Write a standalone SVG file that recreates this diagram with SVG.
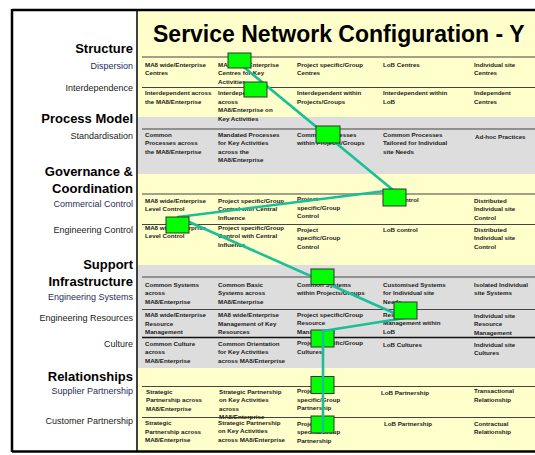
<svg xmlns="http://www.w3.org/2000/svg" width="535" height="455" viewBox="0 0 535 455">
  <style>
    .hdr { font-family: "Liberation Sans", Arial, sans-serif; font-size: 13px; font-weight: bold; fill: #000; text-anchor: end; }
    .sub { font-family: "Liberation Sans", Arial, sans-serif; font-size: 9px; fill: #222; text-anchor: end; }
    .navy { fill: #1f2d5c; }
    .cell { font-family: "Liberation Sans", Arial, sans-serif; font-size: 6.2px; font-weight: bold; fill: #1a1a1a; }
    .title { font-family: "Liberation Sans", Arial, sans-serif; font-size: 23px; font-weight: bold; fill: #000; }
    .rule { stroke: #444; stroke-width: 1.2; }
    .box { fill: #00ff00; stroke: #333; stroke-width: 1; }
    .link { fill: none; stroke: #1abf98; stroke-width: 2.6; stroke-linejoin: round; }
  </style>

  <!-- panels -->
  <rect x="0" y="0" width="535" height="455" fill="#fff"/>
  <rect x="138" y="11" width="397" height="440" fill="#ffffcc"/>
  <rect x="138" y="117" width="397" height="57" fill="#dddddd"/>
  <rect x="138" y="265" width="397" height="103" fill="#dddddd"/>

  <!-- frame -->
  <g stroke="#000">
    <line x1="12" y1="10" x2="535" y2="10" stroke-width="2.5"/>
    <line x1="12" y1="9" x2="12" y2="452" stroke-width="2.5"/>
    <line x1="12" y1="451.5" x2="535" y2="451.5" stroke-width="2.5"/>
    <line x1="137" y1="10" x2="137" y2="451" stroke-width="1.5"/>
  </g>

  <!-- row rules -->
  <g class="rule">
    <line x1="142" y1="57" x2="535" y2="57"/>
    <line x1="142" y1="87.5" x2="535" y2="87.5"/>
    <line x1="142" y1="129" x2="535" y2="129"/>
    <line x1="142" y1="194" x2="535" y2="194"/>
    <line x1="142" y1="224.5" x2="535" y2="224.5"/>
    <line x1="142" y1="277" x2="535" y2="277"/>
    <line x1="142" y1="309.5" x2="535" y2="309.5"/>
    <line x1="142" y1="337.5" x2="535" y2="337.5" stroke="#111" stroke-width="1.5"/>
    <line x1="142" y1="386.5" x2="535" y2="386.5"/>
    <line x1="142" y1="417.5" x2="535" y2="417.5"/>
  </g>

  <!-- title -->
  <text class="title" x="153" y="42">Service Network Configuration - Y</text>

  <!-- left-hand headings -->
  <g id="labels">
    <text class="hdr" x="133" y="53">Structure</text>
    <text class="sub navy" x="133" y="69">Dispersion</text>
    <text class="sub" x="133" y="91">Interdependence</text>
    <text class="hdr" x="133" y="123">Process Model</text>
    <text class="sub" x="133" y="139">Standardisation</text>
    <text class="hdr" x="133" y="176">Governance &amp;</text>
    <text class="hdr" x="133" y="193">Coordination</text>
    <text class="sub navy" x="133" y="207">Commercial Control</text>
    <text class="sub" x="133" y="233">Engineering Control</text>
    <text class="hdr" x="133" y="269">Support</text>
    <text class="hdr" x="133" y="286">Infrastructure</text>
    <text class="sub navy" x="133" y="300">Engineering Systems</text>
    <text class="sub" x="133" y="321">Engineering Resources</text>
    <text class="sub" x="133" y="347">Culture</text>
    <text class="hdr" x="133" y="381">Relationships</text>
    <text class="sub navy" x="133" y="394">Supplier Partnership</text>
    <text class="sub" x="133" y="424">Customer Partnership</text>
  </g>

  <!-- table cells -->
  <g id="row-dispersion" class="cell">
    <text x="145" y="66.5">MA8 wide/Enterprise<tspan x="145" y="75">Centres</tspan></text>
    <text x="218" y="66.5">MA8 wide/Enterprise<tspan x="218" y="75">Centres for Key</tspan><tspan x="218" y="83.5">Activities</tspan></text>
    <text x="297" y="66.5">Project specific/Group<tspan x="297" y="75">Centres</tspan></text>
    <text x="383" y="66.5">LoB Centres</text>
    <text x="474" y="66.5">Individual site<tspan x="474" y="75">Centres</tspan></text>
  </g>
  <g id="row-interdependence" class="cell">
    <text x="145" y="95">Interdependent across<tspan x="145" y="103.5">the MA8/Enterprise</tspan></text>
    <text x="218" y="95">Interdependent<tspan x="218" y="103.5">across</tspan><tspan x="218" y="112">MA8/Enterprise on</tspan><tspan x="218" y="120.5">Key Activities</tspan></text>
    <text x="297" y="95">Interdependent within<tspan x="297" y="103.5">Projects/Groups</tspan></text>
    <text x="383" y="95">Interdependent within<tspan x="383" y="103.5">LoB</tspan></text>
    <text x="474" y="95">Independent<tspan x="474" y="103.5">Centres</tspan></text>
  </g>
  <g id="row-standardisation" class="cell">
    <text x="145" y="136.5">Common<tspan x="145" y="145">Processes across</tspan><tspan x="145" y="153.5">the MA8/Enterprise</tspan></text>
    <text x="218" y="136.5">Mandated Processes<tspan x="218" y="145">for Key Activities</tspan><tspan x="218" y="153.5">across the</tspan><tspan x="218" y="162">MA8/Enterprise</tspan></text>
    <text x="297" y="136.5">Common Processes<tspan x="297" y="145">within Projects/Groups</tspan></text>
    <text x="383" y="136.5">Common Processes<tspan x="383" y="145">Tailored for Individual</tspan><tspan x="383" y="153.5">site Needs</tspan></text>
    <text x="475" y="139">Ad-hoc Practices</text>
  </g>
  <g id="row-commercial" class="cell">
    <text x="145" y="202.5">MA8 wide/Enterprise<tspan x="145" y="211">Level Control</tspan></text>
    <text x="218" y="202.5">Project specific/Group<tspan x="218" y="211">Control with Central</tspan><tspan x="218" y="219.5">Influence</tspan></text>
    <text x="297" y="201">Project<tspan x="297" y="209.5">specific/Group</tspan><tspan x="297" y="218">Control</tspan></text>
    <text x="383" y="201.5">LoB Control</text>
    <text x="474" y="202.5">Distributed<tspan x="474" y="211">Individual site</tspan><tspan x="474" y="219.5">Control</tspan></text>
  </g>
  <g id="row-engineering-control" class="cell">
    <text x="145" y="229.5">MA8 wide/Enterprise<tspan x="145" y="238">Level Control</tspan></text>
    <text x="218" y="229.5">Project specific/Group<tspan x="218" y="238">Control with Central</tspan><tspan x="218" y="246.5">Influence</tspan></text>
    <text x="297" y="231.5">Project<tspan x="297" y="240">specific/Group</tspan><tspan x="297" y="248.5">Control</tspan></text>
    <text x="383" y="231.5">LoB control</text>
    <text x="474" y="231.5">Distributed<tspan x="474" y="240">Individual site</tspan><tspan x="474" y="248.5">Control</tspan></text>
  </g>
  <g id="row-systems" class="cell">
    <text x="145" y="286.5">Common Systems<tspan x="145" y="295">across</tspan><tspan x="145" y="303.5">MA8/Enterprise</tspan></text>
    <text x="218" y="286.5">Common Basic<tspan x="218" y="295">Systems across</tspan><tspan x="218" y="303.5">MA8/Enterprise</tspan></text>
    <text x="297" y="286.5">Common Systems<tspan x="297" y="295">within Projects/Groups</tspan></text>
    <text x="383" y="286.5">Customised Systems<tspan x="383" y="295">for Individual site</tspan><tspan x="383" y="303.5">Needs</tspan></text>
    <text x="474" y="286.5">Isolated Individual<tspan x="474" y="295">site Systems</tspan></text>
  </g>
  <g id="row-resources" class="cell">
    <text x="145" y="317">MA8 wide/Enterprise<tspan x="145" y="325.5">Resource</tspan><tspan x="145" y="334">Management</tspan></text>
    <text x="218" y="317">MA8 wide/Enterprise<tspan x="218" y="325.5">Management of Key</tspan><tspan x="218" y="334">Resources</tspan></text>
    <text x="297" y="316.5">Project specific/Group<tspan x="297" y="325">Resource</tspan><tspan x="297" y="333.5">Management</tspan></text>
    <text x="383" y="316.5">Resource<tspan x="383" y="325">Management within</tspan><tspan x="383" y="333.5">LoB</tspan></text>
    <text x="474" y="317.5">Individual site<tspan x="474" y="326">Resource</tspan><tspan x="474" y="334.5">Management</tspan></text>
  </g>
  <g id="row-culture" class="cell">
    <text x="145" y="345.5">Common Culture<tspan x="145" y="354">across</tspan><tspan x="145" y="362.5">MA8/Enterprise</tspan></text>
    <text x="218" y="345.5">Common Orientation<tspan x="218" y="354">for Key Activities</tspan><tspan x="218" y="362.5">across MA8/Enterprise</tspan></text>
    <text x="297" y="345">Project specific/Group<tspan x="297" y="353.5">Cultures</tspan></text>
    <text x="383" y="346.5">LoB Cultures</text>
    <text x="474" y="346.5">Individual site<tspan x="474" y="355">Cultures</tspan></text>
  </g>
  <g id="row-supplier" class="cell">
    <text x="146" y="393.5">Strategic<tspan x="146" y="402">Partnership across</tspan><tspan x="146" y="410.5">MA8/Enterprise</tspan></text>
    <text x="219" y="393.5">Strategic Partnership<tspan x="219" y="402">on Key Activities</tspan><tspan x="219" y="410.5">across</tspan><tspan x="219" y="419">MA8/Enterprise</tspan></text>
    <text x="297" y="393">Project<tspan x="297" y="401.5">specific/Group</tspan><tspan x="297" y="410">Partnership</tspan></text>
    <text x="381" y="394.5">LoB Partnership</text>
    <text x="474" y="393">Transactional<tspan x="474" y="401.5">Relationship</tspan></text>
  </g>
  <g id="row-customer" class="cell">
    <text x="145" y="425">Strategic<tspan x="145" y="433.5">Partnership across</tspan><tspan x="145" y="442">MA8/Enterprise</tspan></text>
    <text x="218" y="424.5">Strategic Partnership<tspan x="218" y="433">on Key Activities</tspan><tspan x="218" y="441.5">across MA8/Enterprise</tspan></text>
    <text x="297" y="425.5">Project<tspan x="297" y="434">specific/Group</tspan><tspan x="297" y="442.5">Partnership</tspan></text>
    <text x="384" y="425.5">LoB Partnership</text>
    <text x="474" y="425.5">Contractual<tspan x="474" y="434">Relationship</tspan></text>
  </g>

  <!-- markers lying under the profile line -->
  <g id="node-culture"><rect class="box" x="311" y="330" width="23" height="17"/></g>
  <g id="node-supplier"><rect class="box" x="311" y="376.5" width="23" height="17"/></g>
  <g id="node-customer"><rect class="box" x="311" y="416" width="23" height="17"/></g>

  <!-- profile line -->
  <g id="connectors">
    <polyline class="link" points="240,64 393,190 178,217 405,318 323,331 323,433"/>
  </g>

  <!-- markers drawn over the profile line -->
  <g id="node-dispersion"><rect class="box" x="228" y="53" width="23" height="15"/></g>
  <g id="node-interdependence"><rect class="box" x="244" y="82" width="23" height="15"/></g>
  <g id="node-standardisation"><rect class="box" x="316" y="126" width="24" height="17"/></g>
  <g id="node-commercial"><rect class="box" x="383" y="189" width="23" height="17"/></g>
  <g id="node-engineering-control"><rect class="box" x="166" y="217" width="23" height="16"/></g>
  <g id="node-systems"><rect class="box" x="311" y="269" width="23" height="15.5"/></g>
  <g id="node-resources"><rect class="box" x="394" y="302" width="23" height="17"/></g>
</svg>
